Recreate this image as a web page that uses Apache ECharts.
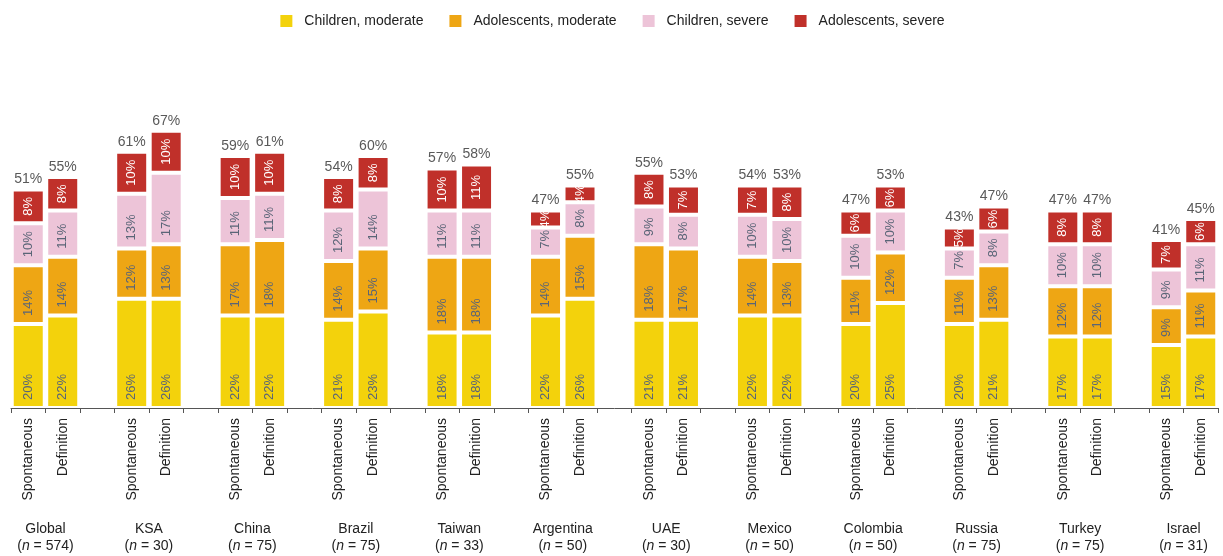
<!DOCTYPE html>
<html>
<head>
<meta charset="utf-8">
<title>Prevalence by country and assessment method</title>
<script src="https://cdn.jsdelivr.net/npm/echarts@6/dist/echarts.min.js"></script>
<style>
  html, body { margin: 0; padding: 0; background: #fff; }
  #chart { width: 1223px; height: 556px; }
</style>
</head>
<body>
<div id="chart"></div>
<script>
// Countries and their sample sizes
const groups = ['Global', 'KSA', 'China', 'Brazil', 'Taiwan', 'Argentina', 'UAE', 'Mexico', 'Colombia', 'Russia', 'Turkey', 'Israel'];
const sampleSizes = [574, 30, 75, 75, 33, 50, 30, 50, 50, 75, 75, 31];
const methods = ['Spontaneous', 'Definition'];

// Each pair is [Spontaneous, Definition], in percent
const childrenModerate    = [[20, 22], [26, 26], [22, 22], [21, 23], [18, 18], [22, 26], [21, 21], [22, 22], [20, 25], [20, 21], [17, 17], [15, 17]];
const adolescentsModerate = [[14, 14], [12, 13], [17, 18], [14, 15], [18, 18], [14, 15], [18, 17], [14, 13], [11, 12], [11, 13], [12, 12], [9, 11]];
const childrenSevere      = [[10, 11], [13, 17], [11, 11], [12, 14], [11, 11], [7, 8], [9, 8], [10, 10], [10, 10], [7, 8], [10, 10], [9, 11]];
const adolescentsSevere   = [[8, 8], [10, 10], [10, 10], [8, 8], [10, 11], [4, 4], [8, 7], [7, 8], [6, 6], [5, 6], [8, 8], [7, 6]];
const totals              = [[51, 55], [61, 67], [59, 61], [54, 60], [57, 58], [47, 55], [55, 53], [54, 53], [47, 53], [43, 47], [47, 47], [41, 45]];

const seriesNames = ['Children, moderate', 'Adolescents, moderate', 'Children, severe', 'Adolescents, severe'];
const seriesColors = ['#F3D20C', '#EEA614', '#EDC4D8', '#C0302A'];
const seriesValues = [childrenModerate, adolescentsModerate, childrenSevere, adolescentsSevere];

// Each country takes two bar slots followed by an empty spacer slot (none after the last)
const slotCount = groups.length * 3 - 1;
function toSlots(pairs) {
  const out = [];
  for (let s = 0; s < slotCount; s++) {
    const g = Math.floor(s / 3), k = s % 3;
    out.push(k < 2 ? pairs[g][k] : '-');
  }
  return out;
}
const slotLabels = [];
for (let s = 0; s < slotCount; s++) {
  const k = s % 3;
  slotLabels.push(k < 2 ? methods[k] : '');
}
const totalSlots = toSlots(totals);

const FONT = '"Liberation Sans", Arial, Helvetica, sans-serif';

const barSeries = seriesValues.map((vals, i) => {
  const isTop = i === 3;
  return {
    name: seriesNames[i],
    type: 'bar',
    stack: 'total',
    barWidth: 33,
    data: toSlots(vals),
    itemStyle: { color: seriesColors[i], borderColor: '#ffffff', borderWidth: 2 },
    label: {
      show: true,
      // lower segments: text starts near the segment bottom and runs upward
      // (offset is in the rotated frame, so +x moves it up the bar);
      // top segment: text centred in the segment
      position: isTop ? ['50%', '50%'] : ['50%', '100%'],
      offset: isTop ? [0, 0] : [8, 0],
      rotate: 90,
      align: isTop ? 'center' : 'left',
      verticalAlign: 'middle',
      overflow: 'none',
      fontFamily: FONT,
      fontSize: 13,
      color: isTop ? '#ffffff' : '#5A6577',
      formatter: p => p.value + '%'
    },
    emphasis: { disabled: true }
  };
});

// Zero-height cap on each stack that carries the total label
const totalSeries = {
  name: 'total',
  type: 'bar',
  stack: 'total',
  barWidth: 33,
  data: totalSlots.map(v => (v === '-' ? '-' : 0)),
  itemStyle: { color: 'transparent', borderWidth: 0 },
  label: {
    show: true,
    position: 'top',
    distance: 3,
    fontFamily: FONT,
    fontSize: 14,
    color: '#595959',
    formatter: p => totalSlots[p.dataIndex] + '%'
  },
  emphasis: { disabled: true }
};

const chart = echarts.init(document.getElementById('chart'), null, { renderer: 'canvas' });
chart.setOption({
  animation: false,
  textStyle: { fontFamily: FONT },
  legend: {
    data: seriesNames,
    top: 8,
    left: 'center',
    icon: 'rect',
    itemWidth: 14,
    itemHeight: 14,
    itemGap: 24,
    textStyle: { fontFamily: FONT, fontSize: 14, color: '#222', padding: [0, 0, 0, 6] }
  },
  grid: { left: 11, right: 5, top: 72, bottom: 148, containLabel: false },
  xAxis: [
    {
      type: 'category',
      data: slotLabels,
      z: 5,
      axisLine: { lineStyle: { color: '#555', width: 1 } },
      axisTick: { show: true, interval: 0, length: 5, lineStyle: { color: '#555' } },
      axisLabel: {
        interval: 0,
        rotate: 90,
        margin: 10,
        fontFamily: FONT,
        fontSize: 14,
        color: '#222'
      }
    },
    {
      // Country names centred under each pair of bars
      type: 'value',
      position: 'bottom',
      min: 0,
      max: slotCount,
      interval: 1,
      axisLine: { show: false },
      axisTick: { show: false },
      splitLine: { show: false },
      axisLabel: {
        margin: 113,
        fontFamily: FONT,
        fontSize: 14,
        color: '#222',
        lineHeight: 17,
        rich: {
          i: { fontFamily: FONT, fontSize: 14, color: '#222', fontStyle: 'italic', lineHeight: 17 }
        },
        formatter: v => {
          if ((v - 1) % 3 !== 0) return '';
          const g = (v - 1) / 3;
          if (g < 0 || g >= groups.length) return '';
          return groups[g] + '\n({i|n} = ' + sampleSizes[g] + ')';
        }
      }
    }
  ],
  yAxis: { type: 'value', min: 0, max: 80, show: false },
  series: [...barSeries, totalSeries]
});
</script>
</body>
</html>
